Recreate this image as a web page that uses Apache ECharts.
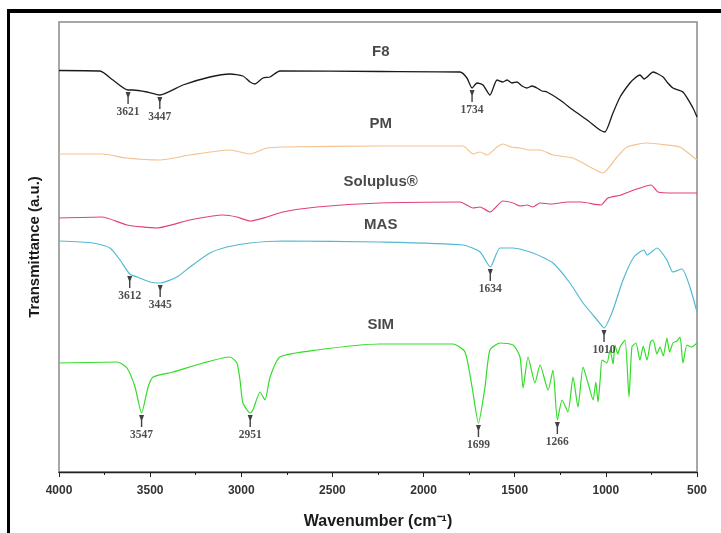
<!DOCTYPE html>
<html>
<head>
<meta charset="utf-8">
<script src="https://cdn.jsdelivr.net/npm/echarts@6/dist/echarts.min.js"></script>
<style>
  html, body { margin: 0; padding: 0; background: #fff; }
  #chart { width: 721px; height: 533px; }
  /* thick black frame seen on the top and left of the figure */
  #frame {
    position: absolute; left: 7px; top: 9px; right: 0; bottom: 0;
    border-top: 4px solid #000; border-left: 3px solid #000;
    pointer-events: none;
  }
</style>
</head>
<body>
<div id="chart"></div>
<div id="frame"></div>
<script>
// x axis ticks (wavenumber, cm-1)
const xTicks = [4000, 3500, 3000, 2500, 2000, 1500, 1000, 500];

// spectra: wavenumber + transmittance (arbitrary units, already offset for stacking)
const f8Wn = [4000, 3775, 3704, 3621, 3594, 3517, 3447, 3320, 3172, 3062, 2991, 2952, 2925, 2881, 2842, 2788, 2239, 1800, 1762, 1734, 1707, 1674, 1636, 1597, 1565, 1542, 1515, 1487, 1460, 1433, 1405, 1378, 1350, 1323, 1252, 1180, 1103, 1032, 1005, 961, 922, 868, 840, 813, 790, 774, 741, 686, 660, 632, 577, 522, 500];
const f8T  = [401.5, 401, 392, 382, 382, 380, 377, 387, 395, 398, 396, 390, 388, 394, 395, 401, 400.5, 400, 394, 384, 389, 387, 377, 392, 390, 392, 389, 390, 386, 384, 386, 384, 381, 380, 372, 362, 352, 342, 340, 359, 375, 389, 394, 397, 393, 395, 400, 395, 389, 384, 380, 364, 355];

const pmWn = [4000, 3764, 3630, 3447, 3282, 3062, 2952, 2859, 2771, 2239, 1784, 1729, 1690, 1652, 1597, 1564, 1520, 1471, 1420, 1362, 1290, 1180, 1087, 1016, 939, 884, 774, 665, 594, 555, 500];
const pmT  = [318, 318, 314, 312, 317, 322, 318, 324, 325, 326, 326, 318, 320, 317, 325, 328, 325, 324, 322, 322, 317, 314, 305, 299, 315, 325, 329, 327, 325, 320, 312];

const soluWn = [4000, 3764, 3627, 3463, 3282, 3100, 3024, 2952, 2859, 2771, 2585, 2239, 1800, 1729, 1690, 1636, 1564, 1509, 1470, 1433, 1400, 1362, 1300, 1208, 1137, 1027, 989, 917, 846, 752, 714, 626, 500];
const soluT  = [254, 255, 247, 244, 252, 257, 255, 251, 255, 260, 265, 269, 270, 264, 265, 260, 271, 269, 266, 267, 265, 269, 268, 270, 270, 267, 274, 277, 282, 287, 280, 279, 279];

const masWn = [4000, 3813, 3720, 3665, 3612, 3572, 3500, 3445, 3353, 3282, 3172, 3079, 2952, 2771, 2239, 1784, 1690, 1634, 1581, 1509, 1400, 1290, 1197, 1125, 1048, 1010, 961, 906, 846, 791, 774, 719, 665, 632, 582, 539, 500];
const masT  = [231, 229, 224, 212, 198, 195, 190, 189, 195, 205, 219, 225, 229, 231, 230, 227, 220, 205, 224, 224, 219, 209, 189, 169, 152, 144, 162, 192, 215, 222, 217, 224, 212, 200, 203, 185, 160];

const simWn = [4000, 3682, 3627, 3583, 3547, 3511, 3484, 3374, 3210, 3062, 3024, 3007, 2991, 2951, 2936, 2897, 2870, 2842, 2788, 2585, 2239, 1839, 1773, 1734, 1699, 1663, 1636, 1581, 1509, 1471, 1454, 1427, 1389, 1361, 1317, 1290, 1266, 1240, 1208, 1180, 1153, 1125, 1098, 1070, 1055, 1043, 1030, 1021, 994, 977, 960, 950, 935, 922, 895, 873, 857, 835, 813, 795, 774, 755, 741, 720, 703, 685, 665, 650, 632, 610, 593, 577, 555, 530, 500];
const simT  = [109, 110, 104, 85, 59, 85, 95, 100, 109, 115, 109, 92, 69, 59, 62, 80, 72, 95, 115, 122, 128, 128, 120, 85, 49, 85, 122, 129, 127, 115, 84, 115, 89, 107, 82, 102, 52, 72, 60, 95, 65, 105, 89, 72, 90, 70, 95, 112, 109, 122, 108, 127, 118, 125, 132, 75, 125, 129, 112, 126, 112, 130, 132, 118, 125, 116, 134, 120, 129, 131, 135, 109, 127, 125, 129];

// trace names and where their title sits
const traceNames = ['F8', 'PM', 'Soluplus®', 'MAS', 'SIM'];
const traceColors = ['#1a1a1a', '#f3c38f', '#e0407f', '#52b9d2', '#34dc2a'];
const nameWn = 2235;
const nameT = [420, 348, 290, 247, 147];

// marked peaks: [trace index, wavenumber]
const peaks = [
  [0, 3621], [0, 3447], [0, 1734],
  [3, 3612], [3, 3445], [3, 1634], [3, 1010],
  [4, 3547], [4, 2951], [4, 1699], [4, 1266]
];

const spectra = [[f8Wn, f8T], [pmWn, pmT], [soluWn, soluT], [masWn, masT], [simWn, simT]];

// value of a trace at a wavenumber (for placing the peak arrows under the curve)
function valueAt(idx, wn) {
  const [xs, ys] = spectra[idx];
  for (let i = 0; i < xs.length - 1; i++) {
    if (wn <= xs[i] && wn >= xs[i + 1]) {
      const t = (xs[i] - wn) / (xs[i] - xs[i + 1]);
      return ys[i] + t * (ys[i + 1] - ys[i]);
    }
  }
  return ys[ys.length - 1];
}

const chart = echarts.init(document.getElementById('chart'), null, { renderer: 'canvas' });

const lineSeries = spectra.map(([xs, ys], i) => ({
  name: traceNames[i],
  type: 'line',
  data: xs.map((x, k) => [x, ys[k]]),
  symbol: 'none',
  smooth: 0.2,
  lineStyle: { color: traceColors[i], width: i === 0 ? 1.3 : 1.2 },
  z: 2
}));

const arrowPath = 'path://M0,0L5,0L3.2,5L3.2,12L1.8,12L1.8,5Z';

const option = {
  animation: false,
  backgroundColor: '#fff',
  grid: {
    left: 59, right: 24, top: 22, bottom: 61,
    containLabel: false,
    outerBoundsMode: 'none',
    show: true, borderColor: '#8a8a8a', borderWidth: 1.5
  },
  xAxis: {
    type: 'value',
    min: 500, max: 4000, interval: 500,
    inverse: true,
    name: 'Wavenumber (cm⁻¹)',
    nameLocation: 'middle',
    nameGap: 42,
    nameTextStyle: { fontFamily: 'Liberation Sans', fontWeight: 'bold', fontSize: 16, color: '#1a1a1a' },
    axisLine: { lineStyle: { color: '#222', width: 1.3 } },
    axisTick: { length: 5, lineStyle: { color: '#222' } },
    minorTick: { show: true, splitNumber: 2, length: 3, lineStyle: { color: '#222' } },
    axisLabel: {
      fontFamily: 'Liberation Sans', fontWeight: 'bold', fontSize: 12, color: '#333', margin: 13,
      formatter: v => xTicks.includes(v) ? String(v) : ''
    },
    splitLine: { show: false }
  },
  yAxis: {
    type: 'value',
    min: 0, max: 450,
    name: 'Transmittance (a.u.)',
    nameLocation: 'middle',
    nameGap: 17,
    nameTextStyle: { fontFamily: 'Liberation Sans', fontWeight: 'bold', fontSize: 15, color: '#1a1a1a' },
    axisLine: { show: false },
    axisTick: { show: false },
    axisLabel: { show: false },
    splitLine: { show: false }
  },
  series: [
    ...lineSeries,
    {
      // trace titles
      type: 'scatter',
      symbolSize: 0,
      silent: true,
      data: traceNames.map((n, i) => ({ value: [nameWn, nameT[i]], name: n })),
      label: {
        show: true, position: 'inside', formatter: p => p.name,
        fontFamily: 'Liberation Sans', fontWeight: 'bold', fontSize: 15, color: '#1a1a1a'
      },
      z: 5
    },
    {
      // peak arrows with wavenumber labels
      type: 'scatter',
      symbol: arrowPath,
      symbolSize: [5, 12],
      symbolOffset: [0, 8],
      silent: true,
      itemStyle: { color: '#111' },
      data: peaks.map(([idx, wn]) => ({ value: [wn, valueAt(idx, wn)], name: String(wn) })),
      label: {
        show: true, position: 'bottom', distance: 2, formatter: p => p.name,
        fontFamily: 'Liberation Serif', fontWeight: 'bold', fontSize: 11.5, color: '#222'
      },
      z: 6
    }
  ]
};

chart.setOption(option);
</script>
</body>
</html>
